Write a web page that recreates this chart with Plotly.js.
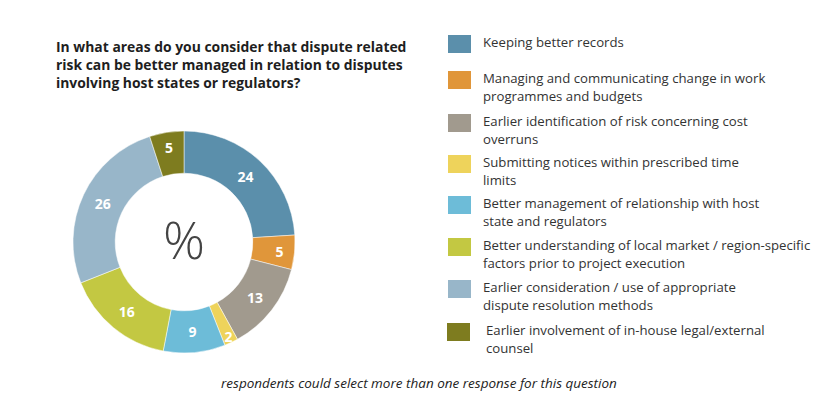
<!DOCTYPE html>
<html>
<head>
<meta charset="utf-8">
<script src="https://cdn.plot.ly/plotly-3.0.1.min.js"></script>
<style>html,body{margin:0;padding:0;background:#fff;}#chart{width:840px;height:420px;}</style>
</head>
<body>
<div id="chart"></div>
<script>
const categories = [
  "Keeping better records",
  "Managing and communicating change in work<br>programmes and budgets",
  "Earlier identification of risk concerning cost<br>overruns",
  "Submitting notices within prescribed time<br>limits",
  "Better management of relationship with host<br>state and regulators",
  "Better understanding of local market / region-specific<br>factors prior to project execution",
  "Earlier consideration / use of appropriate<br>dispute resolution methods",
  "Earlier involvement of in-house legal/external<br>counsel"
];
const values = [24, 5, 13, 2, 9, 16, 26, 5];
const colors = ["#5b8fab", "#e0963a", "#a19a8e", "#eed35b", "#6dbcd8", "#c3c842", "#98b6c9", "#7e7c1f"];
const titleLines = [
  "In what areas do you consider that dispute related",
  "risk can be better managed in relation to disputes",
  "involving host states or regulators?"
];
const centerLabel = "%";
const footnote = "respondents could select more than one response for this question";

const W = 840, H = 420;
const px = x => x / W;
const py = y => 1 - y / H;
const FONT = "Open Sans, sans-serif";

const annotations = [];
const shapes = [];

// title
titleLines.forEach((t, i) => {
  annotations.push({
    text: "<b>" + t + "</b>", x: px(54), y: py(46 + i * 18.5), xref: "paper", yref: "paper",
    xanchor: "left", yanchor: "middle", showarrow: false,
    font: {family: FONT, size: 13.9, color: "#1e1e1e"}
  });
});

// center label
annotations.push({
  text: centerLabel, x: px(184), y: py(238), xref: "paper", yref: "paper",
  xanchor: "center", yanchor: "middle", showarrow: false,
  font: {family: FONT, size: 52, color: "#444444", weight: 300}
});

// legend (custom)
const legendTop = [42, 78, 121, 162, 203, 245, 287, 330];
categories.forEach((c, i) => {
  const y0 = legendTop[i];
  const xs = i === 7 ? 447 : 448;
  shapes.push({
    type: "rect", xref: "paper", yref: "paper",
    x0: px(xs), x1: px(xs + 23), y0: py(y0 - 7), y1: py(y0 + 11),
    fillcolor: colors[i], line: {width: 0}
  });
  c.split("<br>").forEach((line, j) => {
    annotations.push({
      text: line, x: px(i === 7 ? 484 : 481), y: py(y0 + j * 18), xref: "paper", yref: "paper",
      xanchor: "left", yanchor: "middle", showarrow: false,
      font: {family: FONT, size: 13.2, color: "#333333"}
    });
  });
});

// footnote
annotations.push({
  text: "<i>" + footnote + "</i>", x: px(419), y: py(383), xref: "paper", yref: "paper",
  xanchor: "center", yanchor: "middle", showarrow: false,
  font: {family: FONT, size: 13.5, color: "#222222"}
});

const trace = {
  type: "pie",
  values: values,
  labels: categories,
  marker: {colors: colors, line: {color: "#ffffff", width: 0.5}},
  hole: 0.62,
  sort: false,
  direction: "clockwise",
  rotation: 0,
  textinfo: "value",
  textposition: "inside",
  insidetextorientation: "horizontal",
  textfont: {family: FONT, size: 14, color: "#ffffff", weight: 700},
  hoverinfo: "none",
  showlegend: false,
  domain: {x: [px(73), px(295)], y: [py(353), py(131)]}
};

const layout = {
  width: W, height: H,
  margin: {l: 0, r: 0, t: 0, b: 0},
  paper_bgcolor: "#ffffff",
  plot_bgcolor: "#ffffff",
  showlegend: false,
  uniformtext: {minsize: 14, mode: "show"},
  annotations: annotations,
  shapes: shapes
};

Plotly.newPlot("chart", [trace], layout, {staticPlot: true});
</script>
</body>
</html>
